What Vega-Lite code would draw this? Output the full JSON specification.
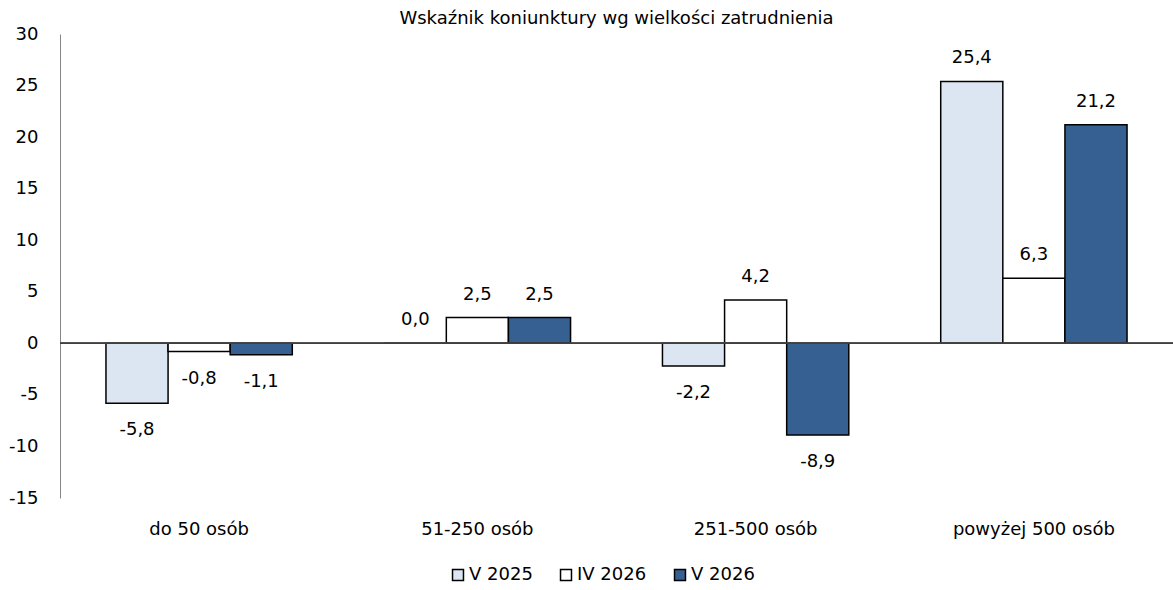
{
  "$schema": "https://vega.github.io/schema/vega-lite/v6.json",
  "width": 1113,
  "height": 464,
  "autosize": "none",
  "padding": {"left": 60, "top": 34, "right": 0, "bottom": 92},
  "title": {"text": "Wskaźnik koniunktury wg wielkości zatrudnienia", "fontSize": 18, "fontWeight": "normal", "font": "DejaVu Sans", "color": "#000000", "anchor": "middle", "offset": 6, "dy": 9},
  "config": {
    "view": {"stroke": null},
    "locale": {"number": {"decimal": ",", "thousands": " ", "grouping": [3], "currency": ["", " zł"], "minus": "-"}},
    "font": "DejaVu Sans"
  },
  "data": {"values": [
    {"kat": "do 50 osób", "okres": "V 2025", "v": -5.8},
    {"kat": "do 50 osób", "okres": "IV 2026", "v": -0.8},
    {"kat": "do 50 osób", "okres": "V 2026", "v": -1.1},
    {"kat": "51-250 osób", "okres": "V 2025", "v": 0.0},
    {"kat": "51-250 osób", "okres": "IV 2026", "v": 2.5},
    {"kat": "51-250 osób", "okres": "V 2026", "v": 2.5},
    {"kat": "251-500 osób", "okres": "V 2025", "v": -2.2},
    {"kat": "251-500 osób", "okres": "IV 2026", "v": 4.2},
    {"kat": "251-500 osób", "okres": "V 2026", "v": -8.9},
    {"kat": "powyżej 500 osób", "okres": "V 2025", "v": 25.4},
    {"kat": "powyżej 500 osób", "okres": "IV 2026", "v": 6.3},
    {"kat": "powyżej 500 osób", "okres": "V 2026", "v": 21.2}
  ]},
  "encoding": {
    "x": {"field": "kat", "type": "nominal", "sort": null,
      "scale": {"paddingInner": 0, "paddingOuter": 0},
      "axis": {"title": null, "labelAngle": 0, "domain": false, "ticks": false, "labelPadding": 22, "labelFontSize": 18, "labelColor": "#000000", "labelFont": "DejaVu Sans"}},
    "xOffset": {"field": "okres", "type": "nominal", "sort": ["V 2025", "IV 2026", "V 2026"],
      "scale": {"paddingInner": 0, "paddingOuter": 0.74}},
    "y": {"field": "v", "type": "quantitative",
      "scale": {"domain": [-15, 30], "nice": false, "zero": false},
      "axis": {"title": null, "values": [-15, -10, -5, 0, 5, 10, 15, 20, 25, 30], "format": "d", "grid": false, "ticks": false, "domainColor": "#868686", "domainWidth": 1, "labelPadding": 22, "labelFontSize": 18, "labelColor": "#000000", "labelFont": "DejaVu Sans"}}
  },
  "layer": [
    {
      "mark": {"type": "bar", "stroke": "#000000", "strokeWidth": 1.5},
      "encoding": {
        "color": {"field": "okres", "type": "nominal",
          "scale": {"domain": ["V 2025", "IV 2026", "V 2026"], "range": ["#DCE6F2", "#FFFFFF", "#376092"]},
          "legend": {"title": null, "orient": "none", "direction": "horizontal", "legendX": 389, "legendY": 532,
            "symbolType": "square", "symbolSize": 120, "symbolStrokeColor": "#000000", "symbolStrokeWidth": 1.5,
            "labelFontSize": 18, "labelColor": "#000000", "labelFont": "DejaVu Sans", "columnPadding": 24, "labelOffset": 2}}
      }
    },
    {
      "mark": {"type": "rule", "color": "#404040", "strokeWidth": 1},
      "encoding": {"y": {"datum": 0}, "x": null, "xOffset": null}
    },
    {
      "transform": [{"filter": "datum.v >= 0"}],
      "mark": {"type": "text", "fontSize": 18, "dy": -23, "baseline": "middle", "color": "#000000"},
      "encoding": {"text": {"field": "v", "type": "quantitative", "format": ".1f"}}
    },
    {
      "transform": [{"filter": "datum.v < 0"}],
      "mark": {"type": "text", "fontSize": 18, "dy": 27, "baseline": "middle", "color": "#000000"},
      "encoding": {"text": {"field": "v", "type": "quantitative", "format": ".1f"}}
    }
  ]
}
